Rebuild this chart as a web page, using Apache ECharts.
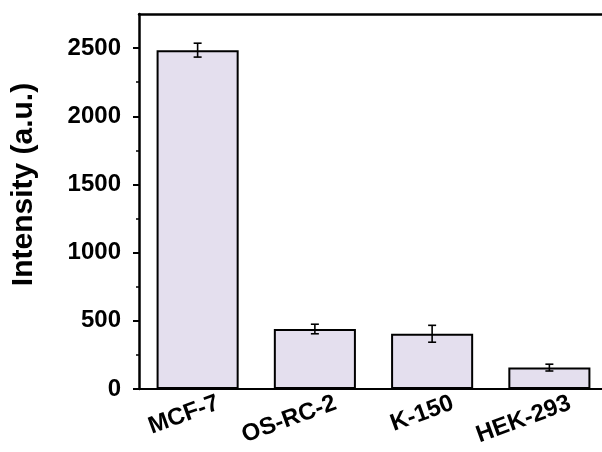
<!DOCTYPE html>
<html>
<head>
<meta charset="utf-8">
<script src="https://cdn.jsdelivr.net/npm/echarts@6/dist/echarts.min.js"></script>
<style>html,body{margin:0;padding:0;background:#fff;overflow:hidden;}#c{width:614px;height:452px;}</style>
</head>
<body>
<div id="c"></div>
<script>
const categories = ['MCF-7', 'OS-RC-2', 'K-150', 'HEK-293'];
const intensity = [2485, 440, 405, 157];
const errors = [51, 35, 62, 25];
const yTicks = [0, 500, 1000, 1500, 2000, 2500];
const yMinorTicks = [250, 750, 1250, 1750, 2250];

const FONT = '"Liberation Sans", Arial, sans-serif';
const chart = echarts.init(document.getElementById('c'), null, {renderer: 'canvas'});

const errData = categories.map((c, i) => [i, intensity[i], errors[i]]);

chart.setOption({
  backgroundColor: '#fff',
  animation: false,
  grid: {left: 139, top: 14, width: 469, height: 375, containLabel: false, outerBoundsMode: 'none', show: false},
  xAxis: [{
    type: 'category', data: categories, position: 'bottom',
    axisLine: {lineStyle: {color: '#000', width: 2}},
    axisTick: {alignWithLabel: true, length: 6, lineStyle: {color: '#000', width: 2}},
    axisLabel: {color: '#000', fontFamily: FONT, fontWeight: 'bold', fontSize: 24, rotate: 20, margin: 21, padding: [0, -22, 0, 0]}
  }, {
    type: 'category', data: categories, position: 'bottom',
    axisLine: {show: false},
    axisTick: {length: 3, lineStyle: {color: '#000', width: 1.5}},
    axisLabel: {show: false}
  }, {
    type: 'category', data: categories, position: 'top',
    axisLine: {show: true, lineStyle: {color: '#000', width: 2.5}},
    axisTick: {show: false},
    axisLabel: {show: false}
  }],
  yAxis: [{
    type: 'value', min: 0, max: 2750,
    name: 'Intensity (a.u.)', nameLocation: 'middle', nameGap: 100, nameRotate: 90,
    nameTextStyle: {color: '#000', fontFamily: FONT, fontWeight: 'bold', fontSize: 30, padding: [0, 0, 0, 34]},
    splitLine: {show: false},
    axisLine: {show: true, lineStyle: {color: '#000', width: 2.5}},
    axisTick: {show: true, length: 6, customValues: yTicks, lineStyle: {color: '#000', width: 2}},
    axisLabel: {color: '#000', fontFamily: FONT, fontWeight: 'bold', fontSize: 24, margin: 18, customValues: yTicks,
      formatter: function (v) { return String(v); }}
  }, {
    type: 'value', min: 0, max: 2750, position: 'left',
    splitLine: {show: false},
    axisLine: {show: false},
    axisTick: {show: true, length: 3, customValues: yMinorTicks, lineStyle: {color: '#000', width: 1.5}},
    axisLabel: {show: false}
  }],
  series: [{
    type: 'bar', xAxisIndex: 0, yAxisIndex: 0,
    data: intensity, barWidth: '70%',
    itemStyle: {color: '#e4dfee', borderColor: '#000', borderWidth: 2}
  }, {
    type: 'custom', xAxisIndex: 0, yAxisIndex: 0, z: 10,
    data: errData,
    renderItem: function (params, api) {
      const x = api.value(0), m = api.value(1), e = api.value(2);
      const top = api.coord([x, m + e]);
      const bot = api.coord([x, m - e]);
      const hw = 4;
      const st = {stroke: '#000', lineWidth: 1.6};
      return {type: 'group', children: [
        {type: 'line', shape: {x1: top[0], y1: top[1], x2: bot[0], y2: bot[1]}, style: st},
        {type: 'line', shape: {x1: top[0] - hw, y1: top[1], x2: top[0] + hw, y2: top[1]}, style: st},
        {type: 'line', shape: {x1: bot[0] - hw, y1: bot[1], x2: bot[0] + hw, y2: bot[1]}, style: st}
      ]};
    }
  }]
});
</script>
</body>
</html>
